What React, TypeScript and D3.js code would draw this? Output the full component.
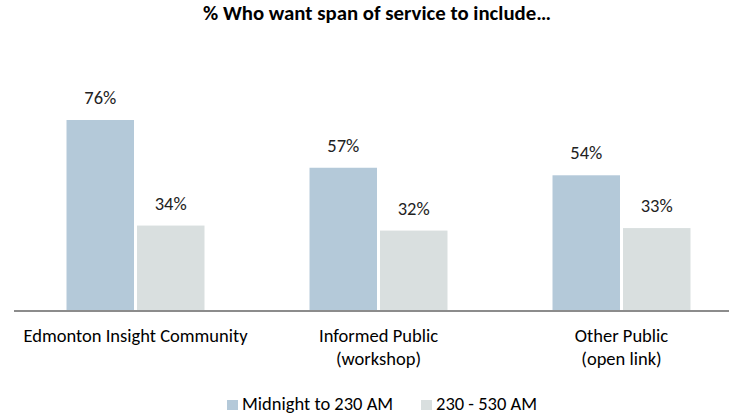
import React from "react";
import * as d3 from "d3";

const categories: string[][] = [
  ["Edmonton Insight Community"],
  ["Informed Public", "(workshop)"],
  ["Other Public", "(open link)"],
];
const seriesNames = ["Midnight to 230 AM", "230 - 530 AM"];
const midnightTo230 = [76, 57, 54];
const from230To530 = [34, 32, 33];
const colors = ["#B4C9D9", "#D9DFDF"];
const title = "% Who want span of service to include\u2026";

const W = 729;
const H = 415;
const FONT = "Carlito, Calibri, Lato, sans-serif";
const FS = 18.5;

export default function App() {
  const series = [midnightTo230, from230To530];
  const x0 = d3
    .scaleBand<number>()
    .domain(categories.map((_, i) => i))
    .range([14, 743])
    .paddingInner(0)
    .paddingOuter(0);
  const x1 = d3
    .scaleBand<number>()
    .domain(series.map((_, i) => i))
    .range([0, x0.bandwidth()])
    .paddingInner(0.0426)
    .paddingOuter(0.745);
  const y = d3.scaleLinear().domain([0, 76]).range([311, 120]);

  return (
    <svg
      width={W}
      height={H}
      style={{ position: "absolute", left: 0, top: 0, background: "#fff" }}
      fontFamily={FONT}
    >
      <text x={377} y={20} textAnchor="middle" fontWeight="bold" fontSize={20.8} fill="#000">
        {title}
      </text>
      {categories.map((cat, ci) =>
        series.map((s, si) => {
          const bx = (x0(ci) as number) + (x1(si) as number);
          const bw = x1.bandwidth();
          return (
            <g key={`${ci}-${si}`}>
              <rect x={bx} y={y(s[ci])} width={bw} height={y(0) - y(s[ci])} fill={colors[si]} />
              <text
                x={bx + bw / 2}
                y={y(s[ci]) - 16}
                textAnchor="middle"
                fontSize={FS}
                fill="#222"
              >
                {s[ci]}%
              </text>
            </g>
          );
        })
      )}
      <line x1={14} x2={743} y1={311} y2={311} stroke="#8C8C8C" strokeWidth={2} />
      {categories.map((cat, ci) =>
        cat.map((line, li) => (
          <text
            key={`${ci}-${li}`}
            x={(x0(ci) as number) + x0.bandwidth() / 2}
            y={342 + li * 22.5}
            textAnchor="middle"
            fontSize={FS}
            fill="#000"
          >
            {line}
          </text>
        ))
      )}
      {seriesNames.map((name, i) => {
        const lx = [227, 421][i];
        return (
          <g key={name}>
            <rect x={lx} y={400} width={11} height={10} fill={colors[i]} />
            <text x={lx + 15} y={410} fontSize={FS} fill="#000">
              {name}
            </text>
          </g>
        );
      })}
    </svg>
  );
}
